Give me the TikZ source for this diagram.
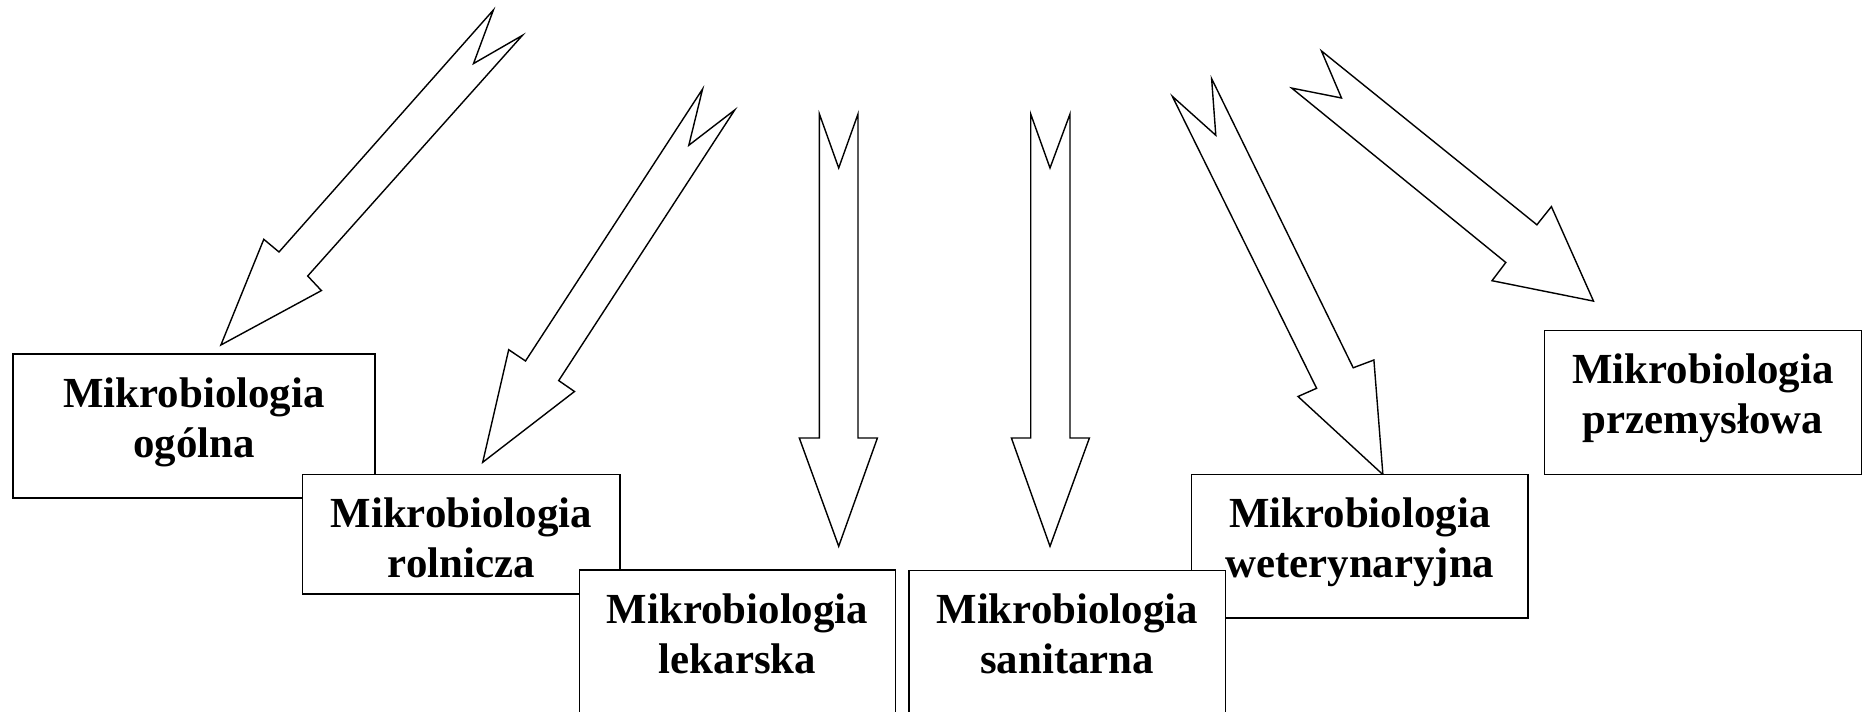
\documentclass[tikz,border=0pt]{standalone}
\usepackage{fontspec}
\setmainfont{Liberation Serif}
\usetikzlibrary{positioning}

\begin{document}
\begin{tikzpicture}[x=0.02cm, y=-0.02cm,
    box/.style={draw, fill=white, line width=0.8pt, inner sep=0pt},
    boxtext/.style={anchor=north, align=center, inner sep=0pt,
      font=\bfseries\fontsize{24.4pt}{28.45pt}\selectfont},
    blockarrow/.style={draw, fill=white, line width=0.8pt, line join=miter}]

        % Frame of the picture
        \useasboundingbox (0,0) rectangle (1863,712);
        \clip (0,0) rectangle (1863,712);

        % Block arrows (tail notch, shaft, head)
        \draw[blockarrow] (493.4,10) -- (473.5,63.6) -- (522.4,35.4) -- (307.7,276)
            -- (321.4,290.6) -- (220.9,345) -- (263.8,239.3) -- (279,252) -- cycle; % to ogolna
        \draw[blockarrow] (702.6,89) -- (688.8,145.3) -- (734.7,110) -- (558.7,380.6)
            -- (574.5,391.5) -- (482.7,462.3) -- (508.7,349.7) -- (525.5,361) -- cycle; % to rolnicza
        \draw[blockarrow] (819.4,114) -- (838.7,168) -- (858,114) -- (858,438)
            -- (877.4,438) -- (838.7,546.3) -- (799.3,438) -- (819.4,438) -- cycle; % to lekarska
        \draw[blockarrow] (1030.7,114) -- (1050,168) -- (1070,114) -- (1070,438)
            -- (1089.4,438) -- (1050,546.3) -- (1011.4,438) -- (1030.7,438) -- cycle; % to sanitarna
        \draw[blockarrow] (1172.3,96.3) -- (1215.8,135.3) -- (1211.6,78.6) -- (1353.2,367.8)
            -- (1373.9,360) -- (1382.9,474.6) -- (1298,396.5) -- (1316.6,388.3) -- cycle; % to weterynaryjna
        \draw[blockarrow] (1321.4,50.9) -- (1341.5,98) -- (1291.7,88.1) -- (1505.8,262.5)
            -- (1492,280.7) -- (1593.5,301.1) -- (1551.4,206.6) -- (1536.9,224.8) -- cycle; % to przemyslowa

        % Boxes, each one laid over the previous
        \node[box, minimum width=7.24cm, minimum height=2.88cm] (ogolna) at (194,426) {};
        \node[boxtext, below=0.48cm of ogolna.north] (ogolnatext) {Mikrobiologia\\ogólna};

        \node[box, minimum width=6.35cm, minimum height=2.39cm] (rolnicza) at (461.25,534.3) {};
        \node[boxtext, below=0.48cm of rolnicza.north] (rolniczatext) {Mikrobiologia\\rolnicza};

        \node[box, minimum width=6.31cm, minimum height=3.4cm] (lekarska) at (737.5,655) {};
        \node[boxtext, below=0.48cm of lekarska.north] (lekarskatext) {Mikrobiologia\\lekarska};

        \node[box, minimum width=6.73cm, minimum height=2.87cm] (weterynaryjna) at (1359.8,546.3) {};
        \node[boxtext, below=0.48cm of weterynaryjna.north] (weterynaryjnatext) {Mikrobiologia\\weterynaryjna};

        \node[box, minimum width=6.33cm, minimum height=3.4cm] (sanitarna) at (1067.2,655.5) {};
        \node[boxtext, below=0.48cm of sanitarna.north] (sanitarnatext) {Mikrobiologia\\sanitarna};

        \node[box, minimum width=6.34cm, minimum height=2.88cm] (przemyslowa) at (1703,402.6) {};
        \node[boxtext, below=0.48cm of przemyslowa.north] (przemyslowatext) {Mikrobiologia\\przemysłowa};
\end{tikzpicture}
\end{document}
